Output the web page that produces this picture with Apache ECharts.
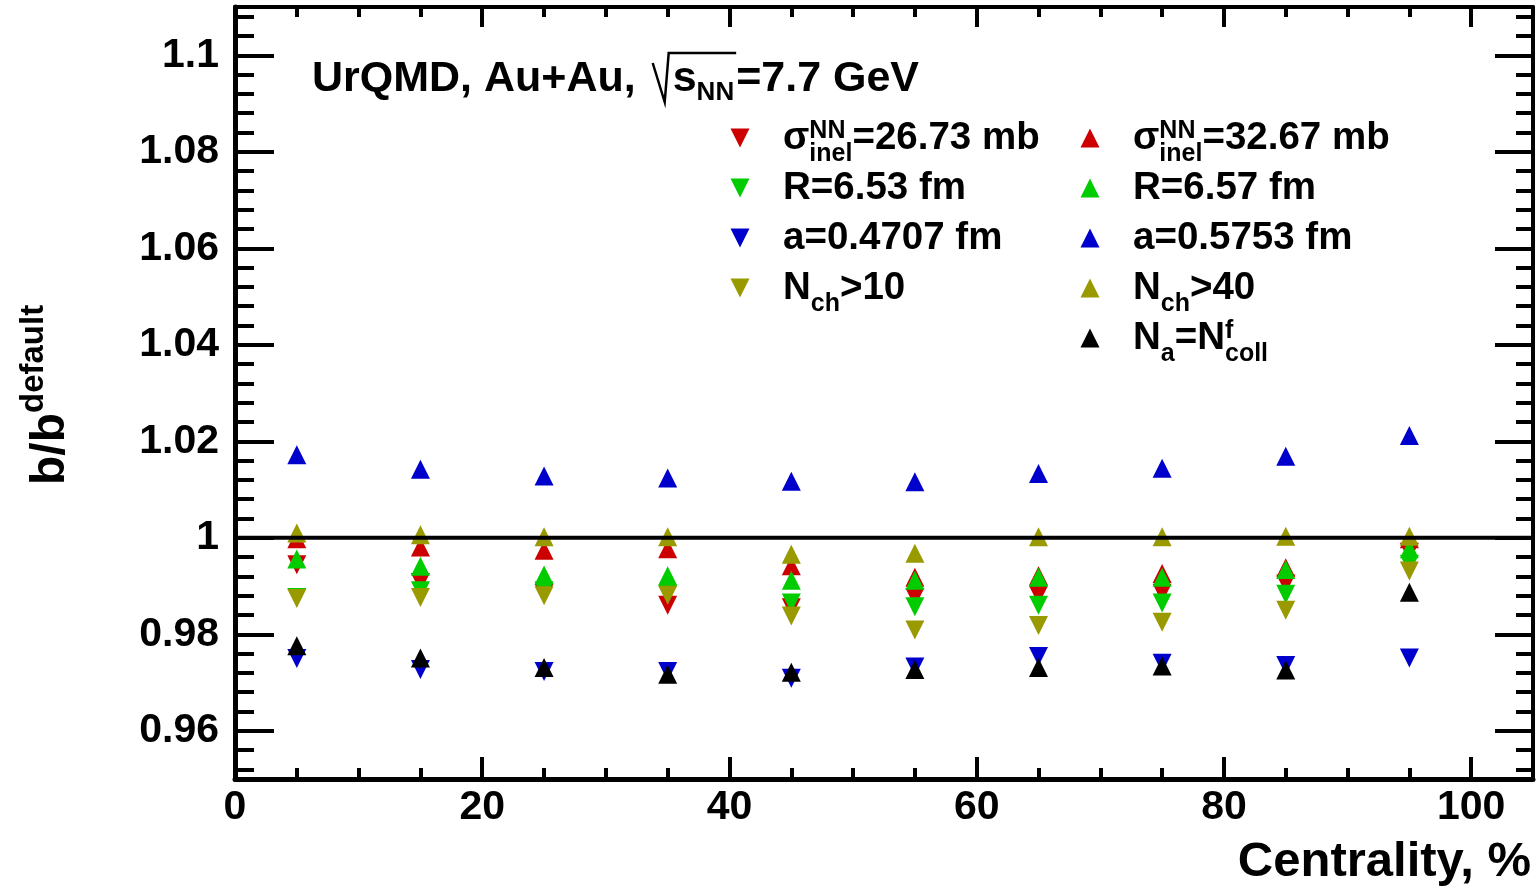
<!DOCTYPE html>
<html><head><meta charset="utf-8">
<script src="https://cdn.jsdelivr.net/npm/echarts@6/dist/echarts.min.js"></script>
<style>html,body{margin:0;padding:0;background:#fff;}#c{width:1538px;height:894px;}</style>
</head><body><div id="c"></div>
<script>
// ---- data ----
const centrality = [5, 15, 25, 35, 45, 55, 65, 75, 85, 95];
const sigma2673 = [0.9944, 0.9907, 0.9885, 0.9860, 0.9855, 0.9876, 0.9881, 0.9885, 0.9904, 0.9970];
const sigma3267 = [0.9998, 0.9981, 0.9974, 0.9977, 0.9942, 0.9918, 0.9921, 0.9926, 0.9938, 0.9998];
const r653 = [0.9876, 0.9890, 0.9890, 0.9883, 0.9865, 0.9857, 0.9860, 0.9865, 0.9883, 0.9945];
const r657 = [0.9956, 0.9941, 0.9923, 0.9921, 0.9912, 0.9912, 0.9918, 0.9918, 0.9934, 0.9977];
const a4707 = [0.9750, 0.9727, 0.9723, 0.9723, 0.9709, 0.9732, 0.9754, 0.9740, 0.9735, 0.9751];
const a5753 = [1.0172, 1.0142, 1.0128, 1.0124, 1.0117, 1.0116, 1.0133, 1.0144, 1.0169, 1.0212];
const nch10 = [0.9874, 0.9876, 0.9880, 0.9881, 0.9838, 0.9809, 0.9818, 0.9825, 0.9850, 0.9931];
const nch40 = [1.0010, 1.0006, 1.0002, 1.0002, 0.9966, 0.9968, 1.0002, 1.0002, 1.0003, 1.0003];
const ncollF = [0.9776, 0.9751, 0.9731, 0.9717, 0.9721, 0.9727, 0.9731, 0.9734, 0.9726, 0.9887];
const referenceLevel = 1;
const xTickLabels = [0, 20, 40, 60, 80, 100];
const yTickLabels = [0.96, 0.98, 1.00, 1.02, 1.04, 1.06, 1.08, 1.10];
const xRange = [0, 105];
const yRange = [0.95, 1.11];

const xMinor = [];
for (let v = 5; v < 100; v += 5) if (v % 20 !== 0) xMinor.push(v);
const yMinor = [];
for (let i = 238; i <= 277; i++) { const v = +(i * 0.004).toFixed(3); yMinor.push(v); }

// ---- styles ----
const FF = '"Liberation Sans", Arial, Helvetica, sans-serif';
const RED = '#cc0000', GREEN = '#00cc00', BLUE = '#0000cc', OLIVE = '#999900', BLACK = '#000000';
const DOWN_ICON = 'path://M0,0L2,0L1,2Z';
const UP_ICON = 'path://M1,0L2,2L0,2Z';

const defs = [
  { name: 's2673', data: sigma2673, color: RED, down: true },
  { name: 's3267', data: sigma3267, color: RED, down: false },
  { name: 'r653', data: r653, color: GREEN, down: true },
  { name: 'r657', data: r657, color: GREEN, down: false },
  { name: 'a4707', data: a4707, color: BLUE, down: true },
  { name: 'a5753', data: a5753, color: BLUE, down: false },
  { name: 'n10', data: nch10, color: OLIVE, down: true },
  { name: 'n40', data: nch40, color: OLIVE, down: false },
  { name: 'ncoll', data: ncollF, color: BLACK, down: false }
];

const series = defs.map(d => ({
  name: d.name, type: 'scatter', xAxisIndex: 0, yAxisIndex: 0,
  symbol: 'triangle', symbolRotate: d.down ? 180 : 0, symbolSize: 19,
  itemStyle: { color: d.color, opacity: 1 },
  emphasis: { disabled: true },
  data: centrality.map((x, i) => [x, d.data[i]]), z: 2
}));
series.push({
  name: 'ref', type: 'line', xAxisIndex: 0, yAxisIndex: 0, symbol: 'none', silent: true, z: 5,
  lineStyle: { color: '#000', width: 4 }, data: [[xRange[0], referenceLevel], [xRange[1], referenceLevel]]
});

function axisBase(extra) {
  return Object.assign({
    type: 'value', splitLine: { show: false }, axisLine: { show: false, onZero: false },
    axisLabel: { show: false }, axisTick: { show: false }
  }, extra);
}
const tickStyle = { color: '#000', width: 4 };
const labelStyle = { fontSize: 41, fontWeight: 'bold', fontFamily: FF, color: '#000' };
const fmt = v => String(+(+v).toFixed(2));

const xAxis = [
  axisBase({ position: 'bottom', min: xRange[0], max: xRange[1],
    axisLine: { show: true, onZero: false, lineStyle: { color: '#000', width: 5 } },
    axisTick: { show: true, inside: true, length: 22, customValues: xTickLabels, lineStyle: tickStyle },
    axisLabel: Object.assign({ show: true, margin: 8, customValues: xTickLabels, formatter: fmt }, labelStyle) }),
  axisBase({ position: 'bottom', min: xRange[0], max: xRange[1],
    axisTick: { show: true, inside: true, length: 11, customValues: xMinor, lineStyle: tickStyle } }),
  axisBase({ position: 'top', min: xRange[0], max: xRange[1],
    axisLine: { show: true, onZero: false, lineStyle: { color: '#000', width: 4 } },
    axisTick: { show: true, inside: true, length: 20, customValues: xTickLabels, lineStyle: tickStyle } }),
  axisBase({ position: 'top', min: xRange[0], max: xRange[1],
    axisTick: { show: true, inside: true, length: 10, customValues: xMinor, lineStyle: tickStyle } })
];
const yAxis = [
  axisBase({ position: 'left', min: yRange[0], max: yRange[1],
    axisLine: { show: true, onZero: false, lineStyle: { color: '#000', width: 5 } },
    axisTick: { show: true, inside: true, length: 39, customValues: yTickLabels, lineStyle: tickStyle },
    axisLabel: Object.assign({ show: true, margin: 16, customValues: yTickLabels, formatter: fmt }, labelStyle) }),
  axisBase({ position: 'left', min: yRange[0], max: yRange[1],
    axisTick: { show: true, inside: true, length: 19, customValues: yMinor, lineStyle: tickStyle } }),
  axisBase({ position: 'right', min: yRange[0], max: yRange[1],
    axisLine: { show: true, onZero: false, lineStyle: { color: '#000', width: 4 } },
    axisTick: { show: true, inside: true, length: 38, customValues: yTickLabels, lineStyle: tickStyle } }),
  axisBase({ position: 'right', min: yRange[0], max: yRange[1],
    axisTick: { show: true, inside: true, length: 17, customValues: yMinor, lineStyle: tickStyle } })
];

// ---- text helpers ----
const mctx = document.createElement('canvas').getContext('2d');
function tw(t, s) { mctx.font = 'bold ' + s + 'px ' + FF; return mctx.measureText(t).width; }
function txt(x, base, t, s, align) {
  return { type: 'text', x: x, y: base - 0.33 * s, silent: true,
    style: { text: t, fontSize: s, fontWeight: 'bold', fontFamily: FF, fill: '#000', align: align || 'left', verticalAlign: 'middle' } };
}
function line(x0, base, parts) {
  const els = []; let x = x0;
  for (const p of parts) {
    if (p.stack) {
      let wm = 0;
      for (const q of p.stack) { els.push(txt(x, base + q.dy, q.t, q.s)); wm = Math.max(wm, tw(q.t, q.s)); }
      x += wm;
    } else { els.push(txt(x, base + (p.dy || 0), p.t, p.s)); x += tw(p.t, p.s); }
  }
  return { els: els, end: x };
}

const L = 38.5, S = 25, SUP = -12, SUB = 11;
const graphics = [];
const rowBase = [151.5, 201.5, 251.5, 301.5, 351.5];
const colL = 783, colR = 1133;
const legendTexts = [
  [colL, 0, [{ t: 'σ', s: L }, { stack: [{ t: 'NN', s: S, dy: SUP }, { t: 'inel', s: S, dy: SUB }] }, { t: '=26.73 mb', s: L }]],
  [colL, 1, [{ t: 'R=6.53 fm', s: L }]],
  [colL, 2, [{ t: 'a=0.4707 fm', s: L }]],
  [colL, 3, [{ t: 'N', s: L }, { t: 'ch', s: S, dy: SUB }, { t: '>10', s: L }]],
  [colR, 0, [{ t: 'σ', s: L }, { stack: [{ t: 'NN', s: S, dy: SUP }, { t: 'inel', s: S, dy: SUB }] }, { t: '=32.67 mb', s: L }]],
  [colR, 1, [{ t: 'R=6.57 fm', s: L }]],
  [colR, 2, [{ t: 'a=0.5753 fm', s: L }]],
  [colR, 3, [{ t: 'N', s: L }, { t: 'ch', s: S, dy: SUB }, { t: '>40', s: L }]],
  [colR, 4, [{ t: 'N', s: L }, { t: 'a', s: S, dy: SUB }, { t: '=N', s: L }, { stack: [{ t: 'f', s: S, dy: SUP }, { t: 'coll', s: S, dy: SUB }] }]]
];
for (const [x, r, parts] of legendTexts) graphics.push(...line(x, rowBase[r], parts).els);

// title
const TB = 93, TS = 43;
const t1 = line(312, TB, [{ t: 'UrQMD, Au+Au,', s: TS }]);
graphics.push(...t1.els);
const e1 = t1.end;
const t2 = line(e1 + 37, TB, [{ t: 's', s: TS }, { t: 'NN', s: 26, dy: 8 }]);
graphics.push(...t2.els);
graphics.push({ type: 'polyline', silent: true,
  shape: { points: [[e1 + 17, TB - 30], [e1 + 29, TB + 9], [e1 + 33, TB - 40], [t2.end + 2, TB - 40]] },
  style: { stroke: '#000', lineWidth: 2.5, fill: null } });
graphics.push(...line(t2.end + 2, TB, [{ t: '=7.7 GeV', s: TS }]).els);

// x axis title
graphics.push(txt(1531, 879, 'Centrality, %', 49, 'right'));
// y axis title (rotated)
const yt = line(0, 0, [{ t: 'b/b', s: 48 }, { t: 'default', s: 33, dy: -22 }]);
graphics.push({ type: 'group', x: 67, y: 485, rotation: Math.PI / 2, children: yt.els, silent: true });

const legendCommon = { orient: 'vertical', top: 128.5, itemWidth: 19, itemHeight: 19, itemGap: 31,
  formatter: () => '', textStyle: { fontSize: 1, lineHeight: 1 }, selectedMode: false, padding: 0 };

const chart = echarts.init(document.getElementById('c'), null, { renderer: 'canvas' });
chart.setOption({
  animation: false,
  backgroundColor: '#fff',
  grid: { left: 235, right: 5, top: 7, bottom: 115 },
  xAxis: xAxis, yAxis: yAxis, series: series,
  legend: [
    Object.assign({ left: 730.5, icon: DOWN_ICON, data: ['s2673', 'r653', 'a4707', 'n10'] }, legendCommon),
    Object.assign({ left: 1080.5, icon: UP_ICON, data: ['s3267', 'r657', 'a5753', 'n40', 'ncoll'] }, legendCommon)
  ],
  graphic: graphics
});
</script></body></html>
